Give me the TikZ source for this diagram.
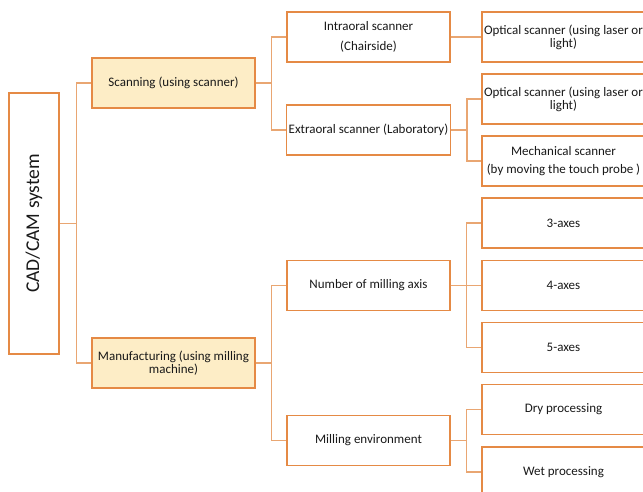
\documentclass[tikz,border=0pt]{standalone}
\usepackage{fontspec}
\setmainfont{Carlito}
\definecolor{boxline}{HTML}{E58A45}
\definecolor{conn}{HTML}{E9A672}
\definecolor{boxfill}{HTML}{FDEDC6}
\tikzset{
  plainbox/.style={draw=boxline, line width=1.3pt, fill=white, rectangle, minimum width=163pt, minimum height=50pt, inner sep=2pt, align=center, font=\fontsize{13}{14.5}\selectfont, text=black!90},
  hlbox/.style={plainbox, fill=boxfill},
  link/.style={draw=conn, line width=1.3pt}
}
\begin{document}
\begin{tikzpicture}[x=1pt,y=-1pt]
\useasboundingbox (0,0) rectangle (643,492);
\clip (0,0) rectangle (643,492);
\fill[white] (0,0) rectangle (643,492);
% root
\node[plainbox, minimum width=50pt, minimum height=261pt] (cad) at (34,223.5) {};
\node[rotate=90, font=\fontsize{19.5}{22}\selectfont, text=black!90] (cadt) at (cad.center) {CAD/CAM system};
% level 1
\node[hlbox] (scan) at (173.5,83) {Scanning (using scanner)};
\node[hlbox] (manu) at (173.5,363) {Manufacturing (using milling\\[-1pt]machine)};
% level 2
\node[plainbox] (intra) at (368.5,37) {Intraoral scanner\\[5pt](Chairside)};
\node[plainbox] (extra) at (368.5,130) {Extraoral scanner (Laboratory)};
\node[plainbox] (axis) at (368.5,285.5) {Number of milling axis};
\node[plainbox] (env) at (368.5,440.5) {Milling environment};
% level 3
\node[plainbox] (opt1) at (563.5,37) {Optical scanner (using laser or\\[-1.5pt]light)};
\node[plainbox] (opt2) at (563.5,99) {Optical scanner (using laser or\\[-1.5pt]light)};
\node[plainbox] (mech) at (563.5,161) {Mechanical scanner\\[4pt](by moving the touch probe )};
\node[plainbox] (ax3) at (563.5,223) {3-axes};
\node[plainbox] (ax4) at (563.5,285.5) {4-axes};
\node[plainbox] (ax5) at (563.5,347.5) {5-axes};
\node[plainbox] (dry) at (563.5,409.5) {Dry processing};
\node[plainbox] (wet) at (563.5,472) {Wet processing};
% connectors
\draw[link] (cad.east) -- ++(16.5,0) |- (scan.west);
\draw[link] (cad.east) -- ++(16.5,0) |- (manu.west);
\draw[link] (scan.east) -- ++(16,0) |- (intra.west);
\draw[link] (scan.east) -- ++(16,0) |- (extra.west);
\draw[link] (manu.east) -- ++(16,0) |- (axis.west);
\draw[link] (manu.east) -- ++(16,0) |- (env.west);
\draw[link] (intra.east) -- (opt1.west);
\draw[link] (extra.east) -- ++(16,0) |- (opt2.west);
\draw[link] (extra.east) -- ++(16,0) |- (mech.west);
\draw[link] (axis.east) -- ++(16,0) |- (ax3.west);
\draw[link] (axis.east) -- (ax4.west);
\draw[link] (axis.east) -- ++(16,0) |- (ax5.west);
\draw[link] (env.east) -- ++(16,0) |- (dry.west);
\draw[link] (env.east) -- ++(16,0) |- (wet.west);
\end{tikzpicture}
\end{document}
